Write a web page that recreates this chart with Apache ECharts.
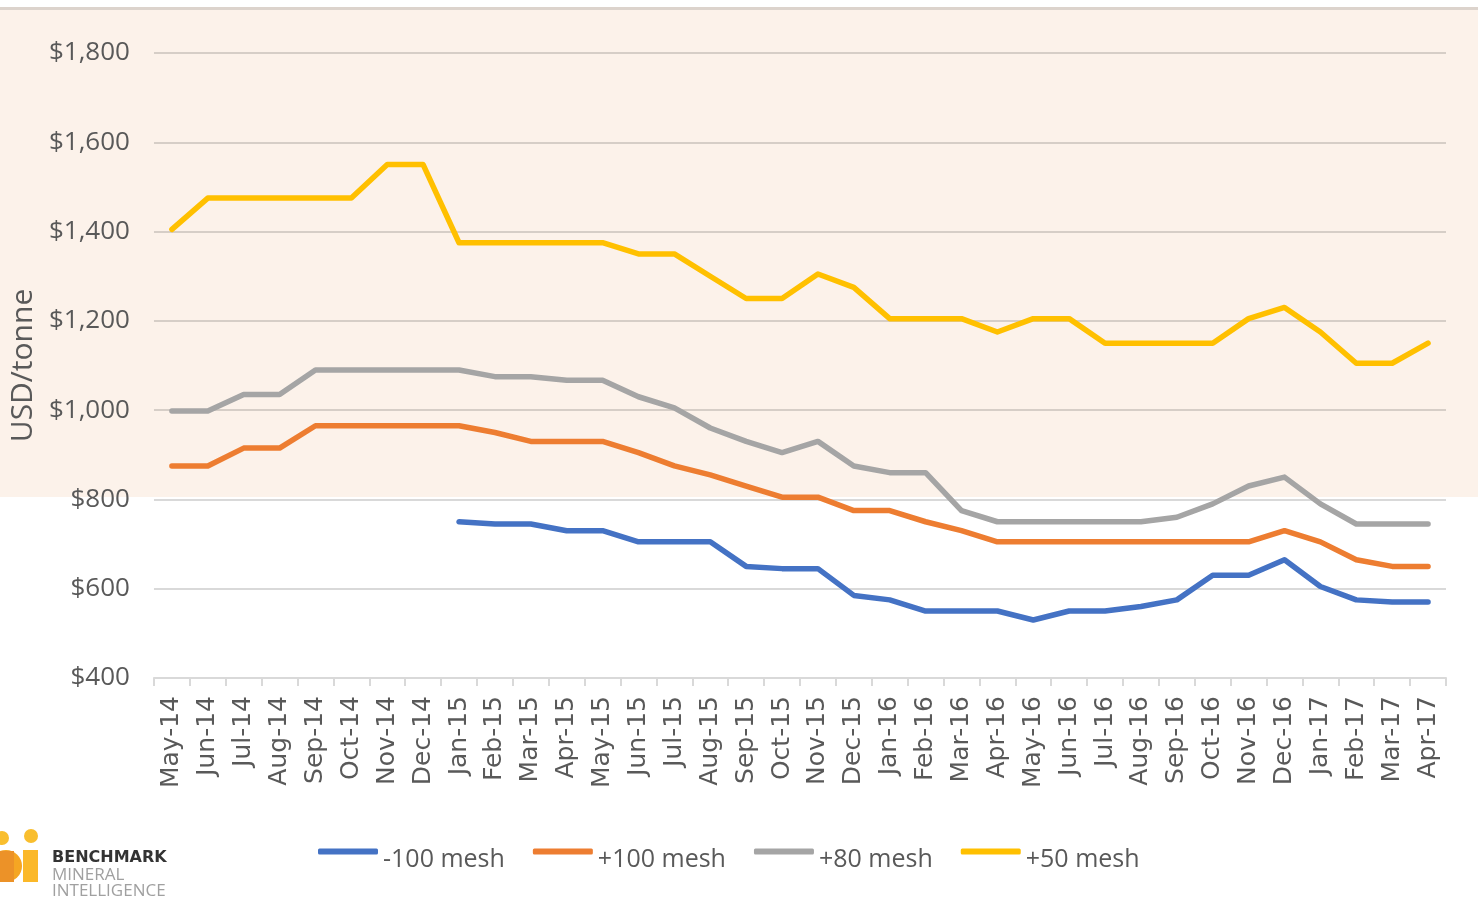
<!DOCTYPE html>
<html>
<head>
<meta charset="utf-8">
<title>Graphite flake prices</title>
<script src="https://cdn.jsdelivr.net/npm/echarts@6/dist/echarts.min.js"></script>
<style>
  html, body { margin: 0; padding: 0; background: #fff; }
  #chart { width: 1478px; height: 904px; }
</style>
</head>
<body>
<div id="chart"></div>
<script>
// months on the x axis
const months = [
  'May-14', 'Jun-14', 'Jul-14', 'Aug-14', 'Sep-14', 'Oct-14', 'Nov-14', 'Dec-14',
  'Jan-15', 'Feb-15', 'Mar-15', 'Apr-15', 'May-15', 'Jun-15', 'Jul-15', 'Aug-15',
  'Sep-15', 'Oct-15', 'Nov-15', 'Dec-15', 'Jan-16', 'Feb-16', 'Mar-16', 'Apr-16',
  'May-16', 'Jun-16', 'Jul-16', 'Aug-16', 'Sep-16', 'Oct-16', 'Nov-16', 'Dec-16',
  'Jan-17', 'Feb-17', 'Mar-17', 'Apr-17'
]

// USD/tonne
const minus100 = [
  null, null, null, null, null, null, null, null,
  750, 745, 745, 730, 730, 705, 705, 705,
  650, 645, 645, 585, 575, 550, 550, 550,
  530, 550, 550, 560, 575, 630, 630, 665,
  605, 575, 570, 570
]
const plus100 = [
  875, 875, 915, 915, 965, 965, 965, 965,
  965, 950, 930, 930, 930, 905, 875, 855,
  830, 805, 805, 775, 775, 750, 730, 705,
  705, 705, 705, 705, 705, 705, 705, 730,
  705, 665, 650, 650
]
const plus80 = [
  998, 998, 1035, 1035, 1090, 1090, 1090, 1090,
  1090, 1075, 1075, 1067, 1067, 1030, 1005, 960,
  930, 905, 930, 875, 860, 860, 775, 750,
  750, 750, 750, 750, 760, 790, 830, 850,
  790, 745, 745, 745
]
const plus50 = [
  1405, 1475, 1475, 1475, 1475, 1475, 1550, 1550,
  1375, 1375, 1375, 1375, 1375, 1350, 1350, 1300,
  1250, 1250, 1305, 1275, 1205, 1205, 1205, 1175,
  1205, 1205, 1150, 1150, 1150, 1150, 1205, 1230,
  1175, 1105, 1105, 1150
]

const seriesNames = ['-100 mesh', '+100 mesh', '+80 mesh', '+50 mesh']
const seriesColors = ['#4472C4', '#ED7D31', '#A5A5A5', '#FFC000']

const sans = '"Open Sans", sans-serif'
const textColor = '#595959'

const chart = echarts.init(document.getElementById('chart'))

const makeLine = (name, data, color) => ({
  name,
  type: 'line',
  data,
  showSymbol: false,
  symbol: 'none',
  connectNulls: false,
  lineStyle: { width: 5.5, color, cap: 'round', join: 'round' },
  itemStyle: { color },
  z: 3
})

chart.setOption({
  animation: false,
  grid: { left: 150, right: 32, top: 53, bottom: 226 },
  legend: {
    data: seriesNames,
    left: 313,
    top: 842,
    itemWidth: 60,
    itemHeight: 6,
    itemGap: 28,
    icon: 'roundRect',
    formatter: '{t|{name}}',
    textStyle: {
      fontFamily: sans,
      fontSize: 25,
      color: textColor,
      rich: {
        t: { fontFamily: sans, fontSize: 25, color: textColor, padding: [16, 0, 0, 0] }
      }
    }
  },
  xAxis: {
    type: 'category',
    data: months,
    boundaryGap: true,
    axisLine: { lineStyle: { color: '#D9D9D9', width: 2 } },
    axisTick: { show: true, length: 8, lineStyle: { color: '#D9D9D9', width: 2 } },
    axisLabel: {
      interval: 0,
      rotate: 90,
      margin: 18,
      fontFamily: '"DejaVu Sans", sans-serif',
      fontSize: 25,
      color: textColor
    },
    splitLine: { show: false }
  },
  yAxis: {
    type: 'value',
    min: 400,
    max: 1800,
    interval: 200,
    name: 'USD/tonne',
    nameLocation: 'middle',
    nameGap: 110,
    nameRotate: 90,
    nameTextStyle: { fontFamily: sans, fontSize: 30, color: textColor },
    axisLine: { show: false },
    axisTick: { show: false },
    axisLabel: {
      margin: 24,
      fontFamily: sans,
      fontSize: 26,
      color: textColor,
      formatter: v => '$' + v.toLocaleString('en-US')
    },
    splitLine: { lineStyle: { color: 'rgba(0,0,0,0.15)', width: 2 } }
  },
  series: [
    makeLine(seriesNames[0], minus100, seriesColors[0]),
    makeLine(seriesNames[1], plus100, seriesColors[1]),
    makeLine(seriesNames[2], plus80, seriesColors[2]),
    makeLine(seriesNames[3], plus50, seriesColors[3])
  ],
  graphic: [
    // shaded band behind the upper part of the chart
    { type: 'rect', z: -1, silent: true, shape: { x: 0, y: 7, width: 1478, height: 3 }, style: { fill: '#DCD3CC' } },
    { type: 'rect', z: -1, silent: true, shape: { x: 0, y: 10, width: 1478, height: 487 }, style: { fill: '#FCF2EA' } },
    // logo
    { type: 'circle', silent: true, shape: { cx: 2, cy: 838, r: 7 }, style: { fill: '#F9BE2E' } },
    { type: 'circle', silent: true, shape: { cx: 31, cy: 836, r: 7 }, style: { fill: '#F9BE2E' } },
    { type: 'circle', silent: true, shape: { cx: 6, cy: 866, r: 16 }, style: { fill: '#F5A623' } },
    { type: 'rect', silent: true, shape: { x: 0, y: 851, width: 14, height: 31 }, style: { fill: '#EC9228' } },
    { type: 'rect', silent: true, shape: { x: 23, y: 850, width: 15, height: 32 }, style: { fill: '#FBB829' } },
    { type: 'text', silent: true, left: 52, top: 850, style: { text: 'BENCHMARK', font: 'bold 16px "DejaVu Sans", sans-serif', fill: '#333333' } },
    { type: 'text', silent: true, left: 52, top: 867, style: { text: 'MINERAL', font: '17px "Open Sans", sans-serif', fill: '#A0A0A0' } },
    { type: 'text', silent: true, left: 52, top: 883, style: { text: 'INTELLIGENCE', font: '17px "Open Sans", sans-serif', fill: '#A0A0A0' } }
  ]
})
</script>
</body>
</html>
